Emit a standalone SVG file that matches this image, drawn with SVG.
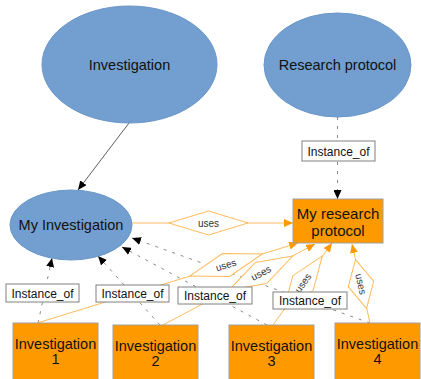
<svg xmlns="http://www.w3.org/2000/svg" width="421" height="379" viewBox="0 0 421 379">
<style>
.ell{fill:#729fcf;stroke:#6b97c9;stroke-width:1}
.box{fill:#ff9900;stroke:#a0a0a0;stroke-width:1}
.t{font-family:"Liberation Sans",Arial,sans-serif;font-size:14.5px;fill:#111;text-anchor:middle}
.lbl rect{fill:#fff;stroke:#808080;stroke-width:1}
.lbl text{font-family:"Liberation Sans",Arial,sans-serif;font-size:12px;fill:#111;text-anchor:middle}
.inst{stroke:#8a8a8a;stroke-width:1;stroke-dasharray:3 6;fill:none;marker-end:url(#ab)}
.solid{stroke:#333;stroke-width:0.8;fill:none;marker-end:url(#ab)}
.uses{stroke:#ffbb5c;stroke-width:1;fill:none;marker-end:url(#ao)}
.dia polygon{fill:#fff;stroke:#ffbb5c;stroke-width:1}
.dia text{font-family:"Liberation Sans",Arial,sans-serif;font-size:10px;fill:#333;text-anchor:middle}
</style>
<defs>
<marker id="ab" markerUnits="userSpaceOnUse" markerWidth="10" markerHeight="8" refX="9" refY="4" orient="auto"><path d="M0,0 L9,4 L0,8 z" fill="#000"/></marker>
<marker id="ao" markerUnits="userSpaceOnUse" markerWidth="10" markerHeight="8" refX="9" refY="4" orient="auto"><path d="M0,0 L9,4 L0,8 z" fill="#ff9900"/></marker>
</defs>
<g id="connectors">
<path class="solid" d="M129,123 L78,190"/>
<path class="inst" d="M337.5,117 L337.5,199"/>
<path class="inst" d="M38,323 L52,258"/>
<path class="inst" d="M160,325 L98,256"/>
<path class="inst" d="M267,325 L122,247"/>
<path class="inst" d="M370,323 L132,238"/>
<path class="uses" d="M132,223 L293,223"/>
<path class="uses" d="M37,323 L298,243"/>
<path class="uses" d="M163,325 L315,244"/>
<path class="uses" d="M273,325 L332,243"/>
<path class="uses" d="M370,323 L352,244"/>
<g class="dia" transform="translate(208.5,223)"><polygon points="-39.5,0 0,-12 39.5,0 0,12"/><text y="3.5">uses</text></g>
<g class="dia" transform="translate(226,265) rotate(-17)"><polygon points="-38,0 0,-12 38,0 0,12"/><text y="3.5">uses</text></g>
<g class="dia" transform="translate(261,273) rotate(-28)"><polygon points="-36,0 0,-12 36,0 0,12"/><text y="3.5">uses</text></g>
<g class="dia" transform="translate(303,283) rotate(-54.3)"><polygon points="-33,0 0,-12.5 33,0 0,12.5"/><text y="3.5">uses</text></g>
<g class="dia" transform="translate(361,284) rotate(77.2)"><polygon points="-25,0 0,-13 25,0 0,13"/><text y="3.5">uses</text></g>
<g class="lbl"><rect x="302" y="141" width="73" height="20"/><text x="338.5" y="155.5">Instance_of</text></g>
<g class="lbl"><rect x="6" y="284" width="73" height="18"/><text x="42.5" y="297.5">Instance_of</text></g>
<g class="lbl"><rect x="96" y="285" width="73" height="17"/><text x="132.5" y="298">Instance_of</text></g>
<g class="lbl"><rect x="178" y="287" width="74" height="17"/><text x="215" y="300">Instance_of</text></g>
<g class="lbl"><rect x="273" y="292" width="74" height="17"/><text x="310" y="305">Instance_of</text></g>
</g>
<g id="investigation"><ellipse class="ell" cx="129.5" cy="64.5" rx="87.5" ry="58.5"/><text class="t" x="129.5" y="69.5">Investigation</text></g>
<g id="research-protocol"><ellipse class="ell" cx="337.5" cy="65" rx="73.5" ry="52"/><text class="t" x="337.5" y="70">Research protocol</text></g>
<g id="my-investigation"><ellipse class="ell" cx="71" cy="225" rx="61" ry="35"/><text class="t" x="71" y="230">My Investigation</text></g>
<g id="my-research-protocol"><rect class="box" x="293" y="199" width="90" height="44"/><text class="t" x="338" y="218.5" style="font-size:15px">My research</text><text class="t" x="338" y="235.5" style="font-size:15px">protocol</text></g>
<g id="investigation-1"><rect class="box" x="13" y="323" width="85" height="60"/><text class="t" x="55.5" y="348.5">Investigation</text><text class="t" x="55.5" y="364">1</text></g>
<g id="investigation-2"><rect class="box" x="113" y="325" width="85" height="58"/><text class="t" x="155.5" y="350.5">Investigation</text><text class="t" x="155.5" y="366">2</text></g>
<g id="investigation-3"><rect class="box" x="229" y="325" width="85" height="58"/><text class="t" x="271.5" y="350.5">Investigation</text><text class="t" x="271.5" y="366">3</text></g>
<g id="investigation-4"><rect class="box" x="335" y="323" width="85" height="60"/><text class="t" x="377.5" y="348.5">Investigation</text><text class="t" x="377.5" y="364">4</text></g>
</svg>
